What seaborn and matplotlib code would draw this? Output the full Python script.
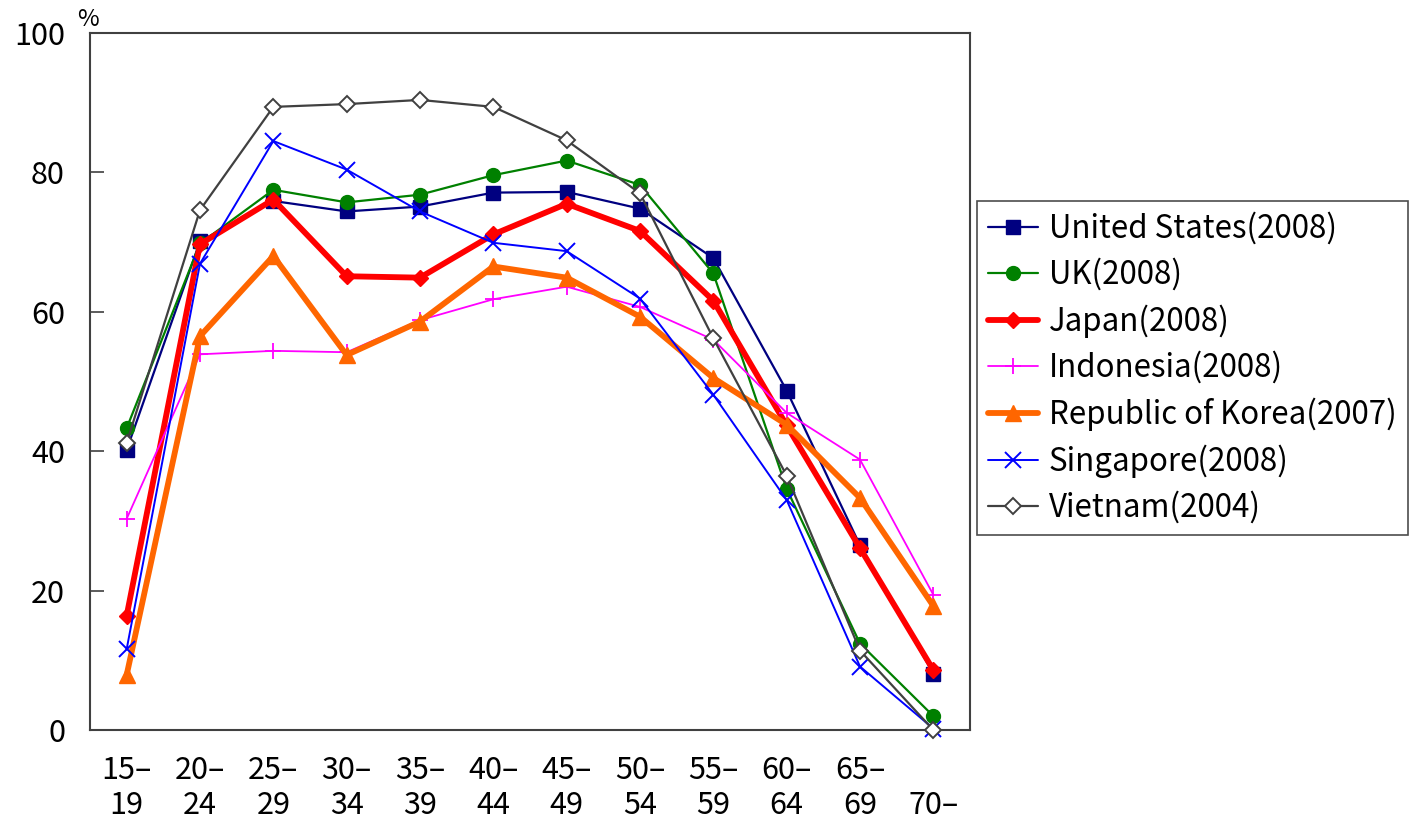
import matplotlib
matplotlib.use("Agg")
import matplotlib.pyplot as plt
import seaborn as sns
import pandas as pd
import numpy as np

# Age groups on the horizontal axis
age_groups = ["15–\n19", "20–\n24", "25–\n29", "30–\n34", "35–\n39", "40–\n44",
              "45–\n49", "50–\n54", "55–\n59", "60–\n64", "65–\n69", "\n70–"]

# Female labour force participation rates (%) by age group
united_states = [40.2, 70.1, 75.9, 74.4, 75.1, 77.1, 77.2, 74.8, 67.7, 48.7, 26.5, 8.1]
uk = [43.3, 69.8, 77.5, 75.7, 76.8, 79.6, 81.7, 78.2, 65.5, 34.6, 12.4, 2.0]
japan = [16.4, 69.7, 76.1, 65.1, 64.9, 71.1, 75.5, 71.6, 61.6, 43.7, 26.1, 8.6]
indonesia = [30.3, 53.9, 54.4, 54.2, 58.8, 61.8, 63.6, 60.7, 56.0, 45.5, 38.8, 19.4]
korea = [7.9, 56.5, 68.0, 53.8, 58.6, 66.5, 64.9, 59.3, 50.5, 43.8, 33.3, 17.8]
singapore = [11.6, 66.9, 84.5, 80.4, 74.4, 69.9, 68.7, 61.9, 48.1, 33.0, 9.1, 0.2]
vietnam = [41.2, 74.6, 89.4, 89.8, 90.4, 89.4, 84.6, 77.0, 56.2, 36.5, 11.4, 0.0]

series_names = ["United States(2008)", "UK(2008)", "Japan(2008)", "Indonesia(2008)",
                "Republic of Korea(2007)", "Singapore(2008)", "Vietnam(2004)"]
series_values = [united_states, uk, japan, indonesia, korea, singapore, vietnam]

styles = {
    "United States(2008)": dict(color="#000080", marker="s", lw=1.6, ms=10, mfc="#000080", mec="#000080", mew=1),
    "UK(2008)": dict(color="#008000", marker="o", lw=1.6, ms=10, mfc="#008000", mec="#008000", mew=1),
    "Japan(2008)": dict(color="#ff0000", marker="D", lw=4.2, ms=8, mfc="#ff0000", mec="#ff0000", mew=1),
    "Indonesia(2008)": dict(color="#ff00ff", marker="+", lw=1.3, ms=12, mfc="#ff00ff", mec="#ff00ff", mew=1.3),
    "Republic of Korea(2007)": dict(color="#ff6600", marker="^", lw=4.2, ms=11, mfc="#ff6600", mec="#ff6600", mew=1),
    "Singapore(2008)": dict(color="#0000ff", marker="x", lw=1.4, ms=11, mfc="#0000ff", mec="#0000ff", mew=1.4),
    "Vietnam(2004)": dict(color="#404040", marker="D", lw=1.6, ms=8, mfc="white", mec="#404040", mew=1.4),
}

rows = []
for name, vals in zip(series_names, series_values):
    for i, v in enumerate(vals):
        rows.append({"series": name, "pos": i, "rate": v})
df = pd.DataFrame(rows)

sns.set_theme(style="white")
plt.rcParams["font.family"] = ["Noto Sans CJK JP", "DejaVu Sans"]
plt.rcParams["text.color"] = "black"
plt.rcParams["xtick.color"] = "black"
plt.rcParams["ytick.color"] = "black"

fig = plt.figure(figsize=(14.14, 8.25), dpi=100)
ax = fig.add_axes([90 / 1414, 95 / 825, 880 / 1414, 697 / 825])

for z, name in enumerate(series_names):
    st = styles[name]
    sub = df[df["series"] == name]
    sns.lineplot(data=sub, x="pos", y="rate", ax=ax, sort=False, estimator=None,
                 color=st["color"], linewidth=st["lw"], marker=st["marker"],
                 markersize=st["ms"], markerfacecolor=st["mfc"],
                 markeredgecolor=st["mec"], markeredgewidth=st["mew"],
                 label=name, zorder=3 + z, clip_on=False)

n = len(age_groups)
ax.set_xlim(-0.5, n - 0.5)
ax.set_ylim(0, 100)
ax.set_yticks(np.arange(0, 101, 20))
ax.set_yticklabels([str(v) for v in range(0, 101, 20)], fontsize=22, color="black")

# Category labels centred under each group, tick marks on the group boundaries
ax.set_xticks(np.arange(n))
ax.set_xticklabels(age_groups, fontsize=22, linespacing=1.15, color="black")
ax.set_xticks(np.arange(0.5, n - 1, 1), minor=True)
ax.tick_params(axis="x", which="major", length=0, pad=18)
ax.tick_params(axis="x", which="minor", direction="in", length=10, width=1.2, color="#404040")
ax.tick_params(axis="y", direction="in", length=10, width=1.2, color="#404040", pad=18, left=True)
ax.set_xlabel("")
ax.set_ylabel("")

for sp in ax.spines.values():
    sp.set_visible(True)
    sp.set_color("#404040")
    sp.set_linewidth(1.5)

fig.text(88 / 1414, 1 - 20 / 825, "%", fontsize=17, ha="center", va="center", color="black")

ax.get_legend().remove()
handles, labels = ax.get_legend_handles_labels()
leg = fig.legend(handles, labels, loc="upper left",
                 bbox_to_anchor=(977 / 1414, 1 - 201 / 825),
                 fontsize=22.5, frameon=True, fancybox=False, edgecolor="#202020",
                 handlelength=1.6, handletextpad=0.35, labelspacing=0.43,
                 borderpad=0.35, borderaxespad=0)
leg.get_frame().set_linewidth(1.2)
for t in leg.get_texts():
    t.set_color("black")

fig.savefig("out.png", dpi=100, facecolor="white")
